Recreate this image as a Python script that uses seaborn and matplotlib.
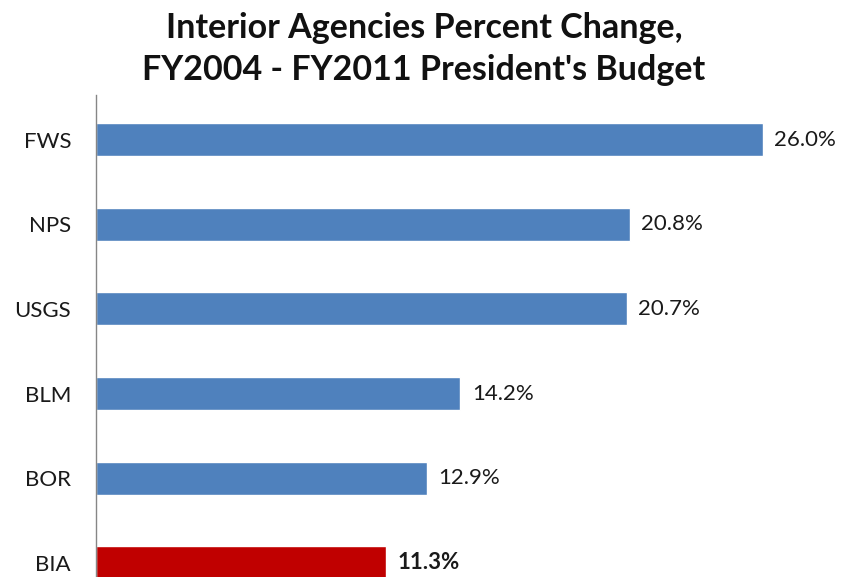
import matplotlib
matplotlib.use("Agg")
import matplotlib.pyplot as plt
import seaborn as sns
import pandas as pd

agencies = ["FWS", "NPS", "USGS", "BLM", "BOR", "BIA"]
pct_change = [26.0, 20.8, 20.7, 14.2, 12.9, 11.3]
highlight = ["no", "no", "no", "no", "no", "yes"]
title = "Interior Agencies Percent Change,\nFY2004 - FY2011 President's Budget"

df = pd.DataFrame({"agency": agencies, "pct": pct_change, "hl": highlight})

sns.set_style("white")
plt.rcParams["font.family"] = ["Lato", "DejaVu Sans"]

fig = plt.figure(figsize=(8.48, 5.77), dpi=100)
ax = fig.add_axes([96 / 848, 0.0, 1 - 96 / 848, 1 - 95 / 577])

sns.barplot(data=df, y="agency", x="pct", hue="hl", orient="h",
            palette={"no": "#4F81BD", "yes": "#C00000"}, dodge=False,
            width=0.39, legend=False, ax=ax, saturation=1)

ax.set_xlim(0, (848 - 96) / 25.65)
ax.set_ylim(5.17, -0.53)
ax.set_xlabel("")
ax.set_ylabel("")
ax.set_xticks([])
for s in ["top", "right", "bottom"]:
    ax.spines[s].set_visible(False)
ax.spines["left"].set_color("#868686")
ax.spines["left"].set_linewidth(1.0)
ax.tick_params(axis="y", length=0, pad=18, labelsize=16, labelcolor="#1a1a1a")

for i, (v, h) in enumerate(zip(pct_change, highlight)):
    ax.text(v + 0.45, i, f"{v:.1f}%", va="center", ha="left",
            fontsize=16, color="#1a1a1a",
            fontweight="bold" if h == "yes" else "normal", clip_on=False)

fig.text(0.5, 0.98, title, ha="center", va="top", fontsize=24.5,
         fontweight="bold", linespacing=1.4, color="#111111")

fig.savefig("out.png", dpi=100)
